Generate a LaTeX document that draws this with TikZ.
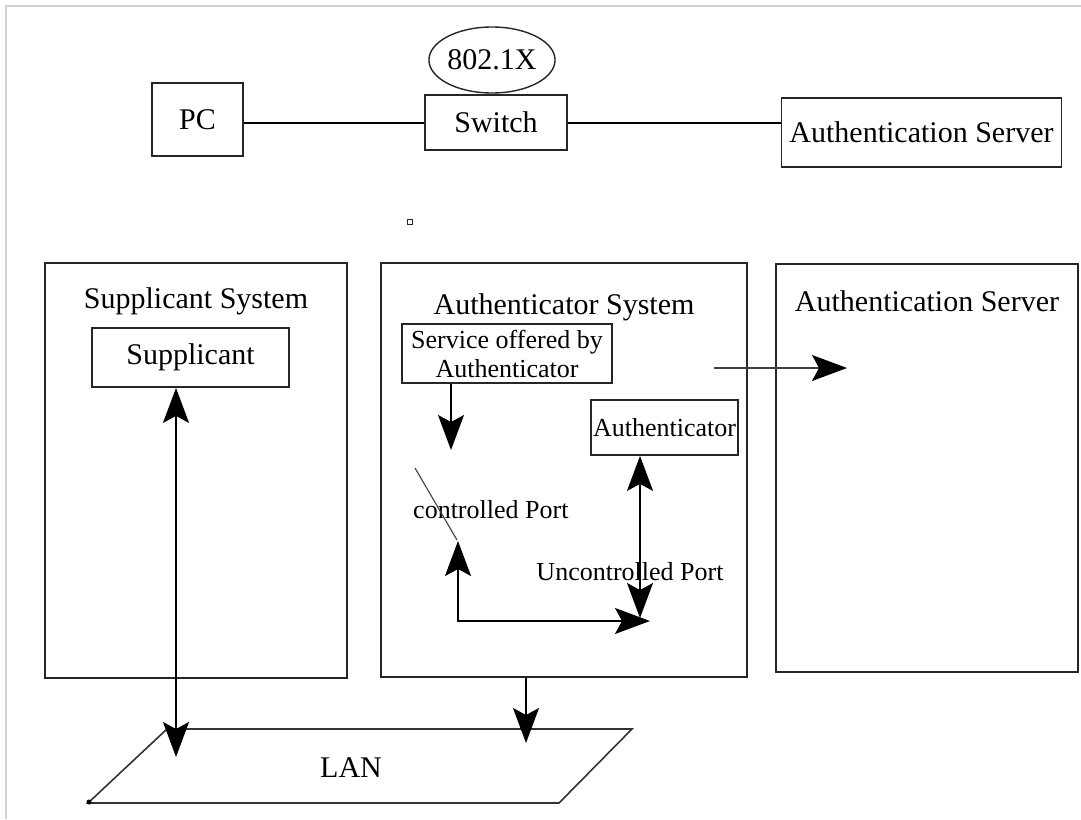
\documentclass[tikz,border=0pt]{standalone}
\usepackage{fontspec}
\setmainfont{Liberation Serif}
\usetikzlibrary{arrows.meta,shapes.geometric}
\newcommand\bigtxt{\fontsize{30}{34}\selectfont}
\newcommand\smalltxt{\fontsize{26}{29}\selectfont}
\begin{document}
\begin{tikzpicture}[x=1pt,y=-1pt,
  box/.style={draw=black!85,line width=1.8pt,inner sep=0pt,font=\bigtxt},
  sbox/.style={box,font=\smalltxt},
  lbl/.style={inner sep=0pt,font=\bigtxt},
  slbl/.style={inner sep=0pt,font=\smalltxt},
  conn/.style={draw=black,line width=1.6pt},
  headtip/.style={-{Stealth[length=35pt,width=26pt,inset=7pt,color=black]}},
  bothtip/.style={{Stealth[length=35pt,width=26pt,inset=7pt]}-{Stealth[length=35pt,width=26pt,inset=7pt]}},
  frame/.style={draw=black!18,line width=2pt}]
\useasboundingbox (0,0) rectangle (1081,819);
% faint frame
\draw[frame] (6,819) -- (6,6) -- (1081,6);
% top row
\node[box,minimum width=91,minimum height=73] (pc) at (197.5,119.5) {PC};
\node[box,minimum width=142,minimum height=55] (sw) at (496,122.5) {Switch};
\node[ellipse,draw=black!85,line width=1.4pt,inner sep=0pt,minimum width=98,minimum height=66,font=\bigtxt] (dot1x) at (492,60) {802.1X};
\node[box,minimum width=280,minimum height=69] (as1) at (921.5,132.5) {Authentication Server};
\draw[conn] (pc.east |- 0,123) -- (sw.west |- 0,123);
\draw[conn] (sw.east |- 0,123) -- (as1.west |- 0,123);
% small square
\node[draw=black!85,line width=1.2pt,minimum size=5,inner sep=0pt] (sq) at (410,222) {};
% big system boxes
\node[box,minimum width=302,minimum height=415] (supsys) at (196,470.5) {};
\node[box,minimum width=366,minimum height=414] (authsys) at (564,470) {};
\node[box,minimum width=302,minimum height=408] (assys) at (927,468) {};
\node[lbl] (supT) at (196,301) {Supplicant System};
\node[lbl] (authT) at (564,307) {Authenticator System};
\node[lbl] (asT) at (927,301) {Authentication Server};
% inner boxes
\node[box,minimum width=197,minimum height=59] (sup) at (190.5,357.5) {Supplicant};
\node[sbox,minimum width=210,minimum height=59,align=center] (svc) at (507,353.5) {Service offered by\\Authenticator};
\node[sbox,minimum width=147,minimum height=55] (auth) at (664.5,427.5) {Authenticator};
% port labels
\node[slbl,anchor=west] (cport) at (413,510) {controlled Port};
\node[slbl] (uport) at (630,572) {Uncontrolled Port};
% coordinates
\coordinate (portTop) at (451,450);
\coordinate (swA) at (415,468);
\coordinate (swB) at (457,540);
\coordinate (cpTip) at (458,541);
\coordinate (corner) at (458,621);
\coordinate (upTip) at (650,621);
\coordinate (ucBot) at (640,618);
\coordinate (srvFrom) at (714,368);
\coordinate (srvTip) at (847,368);
\coordinate (lanL) at (176,757);
\coordinate (lanR) at (526,743);
% LAN parallelogram
\draw[draw=black!80,line width=1.6pt] (167,729) -- (632,729) -- (559,803) -- (88,803) -- cycle;
\fill[black] (89,802) circle (2.5);
\node[lbl] (lan) at (351,768) {LAN};
% connectors
\draw[conn,headtip] (svc.south -| portTop) -- (portTop);
\draw[draw=black!70,line width=1.2pt] (swA) -- (swB);
\draw[conn,bothtip] (cpTip) -- (corner) -- (upTip);
\draw[conn,bothtip] (auth.south -| ucBot) -- (ucBot);
\draw[draw=black!75,line width=1.4pt,headtip] (srvFrom) -- (srvTip);
\draw[conn,bothtip] (sup.south -| lanL) -- (lanL);
\draw[conn,headtip] (authsys.south -| lanR) -- (lanR);
\end{tikzpicture}
\end{document}
